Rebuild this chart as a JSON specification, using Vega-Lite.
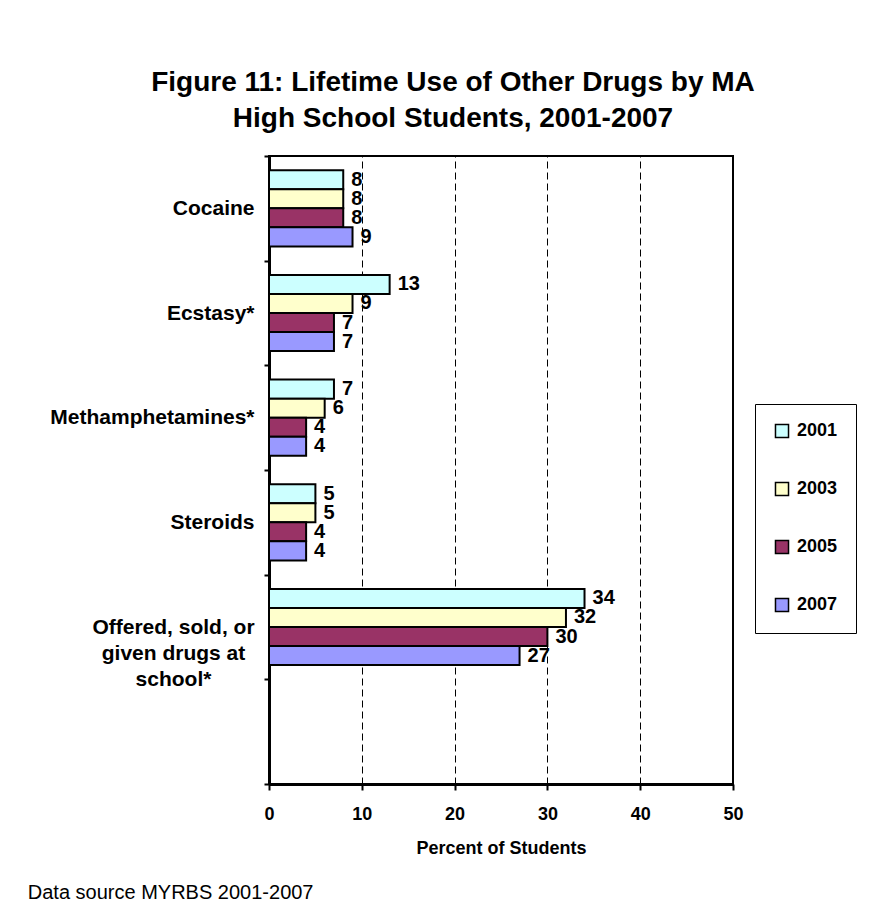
{
  "$schema": "https://vega.github.io/schema/vega-lite/v6.json",
  "padding": {"left": 27, "top": 68, "right": 0, "bottom": 0},
  "config": {
    "font": "Liberation Sans",
    "view": {"stroke": "black", "strokeWidth": 2},
    "background": "white"
  },
  "title": {
    "text": "Data source MYRBS 2001-2007",
    "orient": "bottom",
    "anchor": "start",
    "frame": "bounds",
    "fontSize": 20,
    "fontWeight": "normal",
    "color": "black",
    "offset": 25,
    "dx": -21
  },
  "vconcat": [
    {
      "title": {
        "text": ["Figure 11: Lifetime Use of Other Drugs by MA", "High School Students, 2001-2007"],
        "fontSize": 28,
        "fontWeight": "bold",
        "lineHeight": 36,
        "anchor": "middle",
        "frame": "group",
        "dx": -48,
        "offset": 12,
        "color": "black"
      },
      "width": 464,
      "height": 628,
      "data": {
        "values": [
          {"drug": "Cocaine", "year": "2001", "pct": 8},
          {"drug": "Cocaine", "year": "2003", "pct": 8},
          {"drug": "Cocaine", "year": "2005", "pct": 8},
          {"drug": "Cocaine", "year": "2007", "pct": 9},
          {"drug": "Ecstasy*", "year": "2001", "pct": 13},
          {"drug": "Ecstasy*", "year": "2003", "pct": 9},
          {"drug": "Ecstasy*", "year": "2005", "pct": 7},
          {"drug": "Ecstasy*", "year": "2007", "pct": 7},
          {"drug": "Methamphetamines*", "year": "2001", "pct": 7},
          {"drug": "Methamphetamines*", "year": "2003", "pct": 6},
          {"drug": "Methamphetamines*", "year": "2005", "pct": 4},
          {"drug": "Methamphetamines*", "year": "2007", "pct": 4},
          {"drug": "Steroids", "year": "2001", "pct": 5},
          {"drug": "Steroids", "year": "2003", "pct": 5},
          {"drug": "Steroids", "year": "2005", "pct": 4},
          {"drug": "Steroids", "year": "2007", "pct": 4},
          {"drug": "Offered, sold, or given drugs at school*", "year": "2001", "pct": 34},
          {"drug": "Offered, sold, or given drugs at school*", "year": "2003", "pct": 32},
          {"drug": "Offered, sold, or given drugs at school*", "year": "2005", "pct": 30},
          {"drug": "Offered, sold, or given drugs at school*", "year": "2007", "pct": 27}
        ]
      },
      "encoding": {
        "y": {
          "field": "drug",
          "type": "nominal",
          "title": null,
          "scale": {
            "domain": ["Cocaine", "Ecstasy*", "Methamphetamines*", "Steroids", "Offered, sold, or given drugs at school*", " "],
            "paddingInner": 0,
            "paddingOuter": 0
          },
          "axis": {
            "tickBand": "extent",
            "domainColor": "black",
            "domainWidth": 3,
            "tickColor": "black",
            "tickSize": 5,
            "tickWidth": 2,
            "labelFontSize": 21,
            "labelFontWeight": "bold",
            "labelColor": "black",
            "labelLimit": 320,
            "labelLineHeight": 26,
            "labelExpr": "datum.value == 'Offered, sold, or given drugs at school*' ? ['Offered, sold, or', 'given drugs at', 'school*'] : datum.value",
            "labelAlign": {"condition": {"test": "datum.value == 'Offered, sold, or given drugs at school*'", "value": "center"}, "value": "right"},
            "labelPadding": {"condition": {"test": "datum.value == 'Offered, sold, or given drugs at school*'", "value": 91}, "value": 10},
            "grid": false
          }
        },
        "yOffset": {
          "field": "year",
          "type": "nominal",
          "sort": ["2001", "2003", "2005", "2007"],
          "scale": {"paddingInner": 0, "paddingOuter": 0.75}
        },
        "x": {
          "field": "pct",
          "type": "quantitative",
          "title": "Percent of Students",
          "scale": {"domain": [0, 50], "nice": false},
          "axis": {
            "values": [0, 10, 20, 30, 40, 50],
            "grid": true,
            "gridColor": "black",
            "gridDash": [7, 4],
            "gridWidth": 1,
            "gridOpacity": 1,
            "domainColor": "black",
            "domainWidth": 3,
            "tickColor": "black",
            "tickSize": 6,
            "tickWidth": 2,
            "labelFontSize": 18,
            "labelFontWeight": "bold",
            "labelColor": "black",
            "labelPadding": 15,
            "labelFlush": false,
            "titleFontSize": 18,
            "titleFontWeight": "bold",
            "titleColor": "black",
            "titlePadding": 16
          }
        }
      },
      "layer": [
        {
          "mark": {"type": "bar", "stroke": "black", "strokeWidth": 2},
          "encoding": {
            "color": {
              "field": "year",
              "type": "nominal",
              "scale": {
                "domain": ["2001", "2003", "2005", "2007"],
                "range": ["#CCFFFF", "#FFFFCC", "#993366", "#9999FF"]
              },
              "legend": {
                "orient": "none",
                "legendX": 486,
                "legendY": 248,
                "title": null,
                "strokeColor": "black",
                "padding": 18,
                "labelFontSize": 18,
                "labelFontWeight": "bold",
                "labelColor": "black",
                "symbolType": "square",
                "symbolSize": 170,
                "symbolStrokeColor": "black",
                "symbolStrokeWidth": 1.5,
                "symbolOpacity": 1,
                "rowPadding": 38,
                "labelOffset": 6
              }
            }
          }
        },
        {
          "mark": {"type": "text", "align": "left", "baseline": "middle", "dx": 8, "fontSize": 20, "fontWeight": "bold", "color": "black"},
          "encoding": {
            "text": {"field": "pct", "type": "quantitative"}
          }
        }
      ]
    }
  ]
}
